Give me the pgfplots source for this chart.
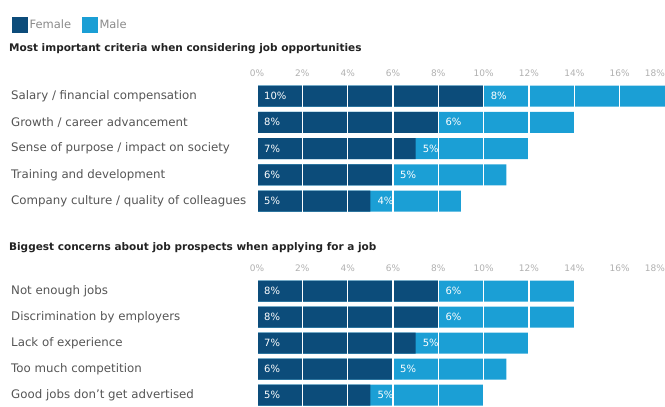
\documentclass[border=0pt]{standalone}
\usepackage{pgfplots}
\pgfplotsset{compat=1.18}
\usepackage{pgfplotstable}
\usepackage{fontspec}
\setmainfont{DejaVu Sans}
\definecolor{fem}{HTML}{0C4C7A}
\definecolor{mal}{HTML}{1B9FD5}
\definecolor{lab}{HTML}{555555}
\definecolor{tit}{HTML}{222222}
\definecolor{tck}{HTML}{B0B0B0}
\definecolor{leg}{HTML}{8A8A8A}

\pgfplotstableread[col sep=comma]{
y,f,m,name
0,10,8,Salary / financial compensation
1,8,6,Growth / career advancement
2,7,5,Sense of purpose / impact on society
3,6,5,Training and development
4,5,4,Company culture / quality of colleagues
}\crit

\pgfplotstableread[col sep=comma]{
y,f,m,name
0,8,6,Not enough jobs
1,8,6,Discrimination by employers
2,7,5,Lack of experience
3,6,5,Too much competition
4,5,5,Good jobs don't get advertised
}\conc

\pgfplotsset{
  panel/.style={
    scale only axis, width=408pt,
    /pgf/number format/assume math mode=true,
    xmin=0, xmax=18, ymin=-0.5, ymax=4.5, y dir=reverse,
    axis line style={draw=none}, major tick length=0pt,
    xtick={0,2,...,16}, xticklabel pos=upper,
    xticklabel={\pgfmathprintnumber{\tick}\%},
    extra x ticks={18},
    extra x tick style={grid=none, xticklabel={\llap{\pgfmathprintnumber{\tick}\%}}},
    xticklabel style={font=\fontsize{9}{10}\selectfont, text=tck, inner sep=0pt, anchor=south, yshift=6pt},
    xmajorgrids, major grid style={white, line width=1.1pt}, axis on top,
    ytick={0,...,4},
    yticklabel style={anchor=west, xshift=-246pt, font=\fontsize{11.8}{14}\selectfont, text=lab, inner sep=0pt},
    title style={anchor=west, font=\bfseries\fontsize{10.5}{12}\selectfont, text=tit, inner sep=0pt},
  },
  lbl/.style={draw=none, point meta=explicit,
    nodes near coords={\pgfmathprintnumber{\pgfplotspointmeta}\%},
    nodes near coords style={anchor=west, text=white, font=\fontsize{10}{12}\selectfont, inner sep=0pt, xshift=7pt}},
  barf/.style={xbar, bar width=21pt, bar shift=0pt, fill=fem, draw=none, forget plot},
  barm/.style={xbar, bar width=21pt, bar shift=0pt, fill=mal, draw=none, forget plot},
}

\begin{document}
\begin{tikzpicture}
\useasboundingbox (0,0) rectangle (665pt,-407pt);
\begin{axis}[panel, at={(257pt,-82.85pt)}, anchor=north west, height=131.5pt,
  yticklabels from table={\crit}{name},
  title={Most important criteria when considering job opportunities},
  title style={at={(-0.608,1.212)}},
  legend style={draw=none, fill=none, at={(-0.608,1.517)}, anchor=north west,
    font=\fontsize{11.5}{13}\selectfont, text=leg, legend columns=2,
    /tikz/every even column/.append style={column sep=9pt}},
  legend cell align=left]
\addlegendimage{legend image code/.code={\fill[fem] (0pt,-7.5pt) rectangle (15pt,7.5pt);}}
\addlegendentry{Female}
\addlegendimage{legend image code/.code={\fill[mal] (0pt,-7.5pt) rectangle (15pt,7.5pt);}}
\addlegendentry{Male}
\addplot[barm] table[x expr=\thisrow{f}+\thisrow{m}, y=y] {\crit};
\addplot[barf] table[x=f, y=y] {\crit};
\addplot[lbl, forget plot] table[x expr=0, y=y, meta=f] {\crit};
\addplot[lbl, forget plot] table[x=f, y=y, meta=m] {\crit};
\end{axis}

\begin{axis}[panel, at={(257pt,-278pt)}, anchor=north west, height=130pt,
  yticklabels from table={\conc}{name},
  title={Biggest concerns about job prospects when applying for a job},
  title style={at={(-0.608,1.184)}}]
\addplot[barm] table[x expr=\thisrow{f}+\thisrow{m}, y=y] {\conc};
\addplot[barf] table[x=f, y=y] {\conc};
\addplot[lbl, forget plot] table[x expr=0, y=y, meta=f] {\conc};
\addplot[lbl, forget plot] table[x=f, y=y, meta=m] {\conc};
\end{axis}
\end{tikzpicture}
\end{document}
